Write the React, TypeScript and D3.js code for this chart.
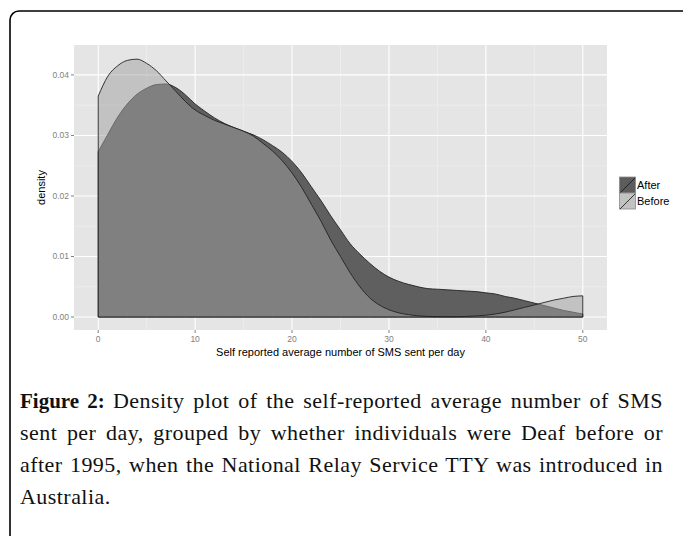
import React, { useLayoutEffect, useRef, useState } from "react";
import * as d3 from "d3";

const xs: number[] = d3.range(0, 51);
const beforeDensity: number[] = [
  0.0365, 0.0398, 0.0415, 0.0424, 0.0426, 0.0419, 0.0407, 0.039, 0.0373, 0.0356,
  0.0342, 0.0333, 0.0325, 0.0319, 0.0313, 0.0307, 0.0299, 0.0287, 0.0274, 0.0258,
  0.0238, 0.0214, 0.0186, 0.0158, 0.0127, 0.01, 0.0073, 0.005, 0.0032, 0.002,
  0.0012, 0.0007, 0.0004, 0.0002, 0.0001, 0.00005, 0.00005, 0.00005, 0.0001, 0.0002,
  0.0003, 0.0005, 0.0008, 0.0012, 0.0016, 0.002, 0.0024, 0.0028, 0.0031, 0.0034,
  0.0035,
];
const afterDensity: number[] = [
  0.0273, 0.0302, 0.033, 0.0352, 0.0368, 0.0378, 0.0384, 0.0385, 0.0379, 0.0367,
  0.0352, 0.034, 0.0329, 0.032, 0.0313, 0.0307, 0.0301, 0.0293, 0.0283, 0.0272,
  0.0257, 0.0238, 0.0215, 0.0192, 0.0167, 0.0144, 0.0121, 0.0104, 0.0089, 0.0076,
  0.0066, 0.0059, 0.0054, 0.005, 0.0047, 0.0046, 0.0045, 0.0044, 0.0043, 0.0042,
  0.004, 0.0038, 0.0034, 0.0031, 0.0027, 0.0023, 0.0019, 0.0015, 0.0011, 0.0008,
  0.0005,
];
const xTicks: number[] = [0, 10, 20, 30, 40, 50];
const xMinor: number[] = [5, 15, 25, 35, 45];
const yTicks: number[] = [0, 0.01, 0.02, 0.03, 0.04];
const yMinor: number[] = [0.005, 0.015, 0.025, 0.035];
const groups: string[] = ["After", "Before"];
const captionLines: string[] = [
  "Density plot of the self-reported average number of SMS",
  "sent per day, grouped by whether individuals were Deaf before or",
  "after 1995, when the National Relay Service TTY was introduced in",
  "Australia.",
];

export default function App() {
  const W = 683, H = 536;
  const left = 74, right = 607, top = 45, bottom = 330;
  const x = d3.scaleLinear().domain([-2.5, 52.5]).range([left, right]);
  const y = d3.scaleLinear().domain([-0.00214, 0.04494]).range([bottom, top]);

  const area = d3
    .area<number>()
    .x((_, i) => x(xs[i]))
    .y0(() => y(0))
    .y1((d) => y(d))
    .curve(d3.curveMonotoneX);

  const sans = "'Liberation Sans', Arial, sans-serif";
  const serif = "'Liberation Serif', 'Times New Roman', serif";
  const grey = "#7f7f7f";
  const capWidth = 643;

  const refs = useRef<(SVGTextElement | null)[]>([]);
  const [spacing, setSpacing] = useState<number[]>([0, 0, 0, 0]);
  useLayoutEffect(() => {
    const s = captionLines.map((line, i) => {
      const el = refs.current[i];
      if (!el || i === 3) return 0;
      const w = el.getComputedTextLength();
      const full = (i === 0 ? "Figure 2: " : "") + line;
      const n = (full.match(/ /g) || []).length;
      return n > 0 ? (capWidth - w) / n : 0;
    });
    setSpacing(s);
  }, []);

  return (
    <svg width={W} height={H} style={{ position: "absolute", left: 0, top: 0 }}>
      <rect x={0} y={0} width={W} height={H} fill="#fff" />
      <rect x={10} y={11} width={690} height={600} rx={9} ry={9} fill="none" stroke="#000" strokeWidth={1.6} />

      {/* panel */}
      <rect x={left} y={top} width={right - left} height={bottom - top} fill="#e5e5e5" />
      {xMinor.map((t) => (
        <line key={"xm" + t} x1={x(t)} x2={x(t)} y1={top} y2={bottom} stroke="#f2f2f2" strokeWidth={0.6} />
      ))}
      {yMinor.map((t) => (
        <line key={"ym" + t} x1={left} x2={right} y1={y(t)} y2={y(t)} stroke="#f2f2f2" strokeWidth={0.6} />
      ))}
      {xTicks.map((t) => (
        <line key={"xg" + t} x1={x(t)} x2={x(t)} y1={top} y2={bottom} stroke="#fff" strokeWidth={1.1} />
      ))}
      {yTicks.map((t) => (
        <line key={"yg" + t} x1={left} x2={right} y1={y(t)} y2={y(t)} stroke="#fff" strokeWidth={1.1} />
      ))}

      {/* densities */}
      <path d={area(afterDensity) || ""} fill="#5f5f5f" fillOpacity={1} stroke="#222" strokeWidth={0.9} />
      <path d={area(beforeDensity) || ""} fill="#a0a0a0" fillOpacity={0.51} stroke="#222" strokeWidth={0.9} />

      {/* axes */}
      {yTicks.map((t) => (
        <g key={"yt" + t}>
          <line x1={left - 3} x2={left} y1={y(t)} y2={y(t)} stroke={grey} strokeWidth={1} />
          <text x={left - 5} y={y(t)} dy="0.35em" textAnchor="end" fontFamily={sans} fontSize={8.5} fill={grey}>
            {d3.format(".2f")(t)}
          </text>
        </g>
      ))}
      {xTicks.map((t) => (
        <g key={"xt" + t}>
          <line x1={x(t)} x2={x(t)} y1={bottom} y2={bottom + 3} stroke={grey} strokeWidth={1} />
          <text x={x(t)} y={bottom + 12} textAnchor="middle" fontFamily={sans} fontSize={8.5} fill={grey}>
            {t}
          </text>
        </g>
      ))}
      <text x={(left + right) / 2} y={356} textAnchor="middle" fontFamily={sans} fontSize={11} fill="#000">
        Self reported average number of SMS sent per day
      </text>
      <text
        transform={`translate(45,${(top + bottom) / 2}) rotate(-90)`}
        textAnchor="middle"
        fontFamily={sans}
        fontSize={11}
        fill="#000"
      >
        density
      </text>

      {/* legend */}
      {groups.map((g, i) => {
        const ky = 177 + i * 16;
        return (
          <g key={g}>
            <rect x={619.5} y={ky} width={16} height={16} fill={i === 0 ? "#5c5c5c" : "#c2c2c2"} stroke="#8a8a8a" strokeWidth={0.8} />
            <line x1={620} y1={ky + 16} x2={635} y2={ky + 1} stroke="#111" strokeWidth={0.8} />
            <text x={637} y={ky + 11.5} fontFamily={sans} fontSize={11} fill="#000">
              {g}
            </text>
          </g>
        );
      })}

      {/* caption */}
      {captionLines.map((line, i) => {
        const yy = 408 + i * 32;
        return (
          <text
            key={i}
            ref={(el) => {
              refs.current[i] = el;
            }}
            x={20}
            y={yy}
            fontFamily={serif}
            fontSize={22}
            fill="#111"
            style={{ wordSpacing: `${spacing[i]}px`, letterSpacing: "0.45px" }}
          >
            {i === 0 ? (
              <tspan fontWeight="bold" fontSize={21} style={{ letterSpacing: "0px" }}>
                Figure 2:{" "}
              </tspan>
            ) : null}
            {line}
          </text>
        );
      })}
    </svg>
  );
}
